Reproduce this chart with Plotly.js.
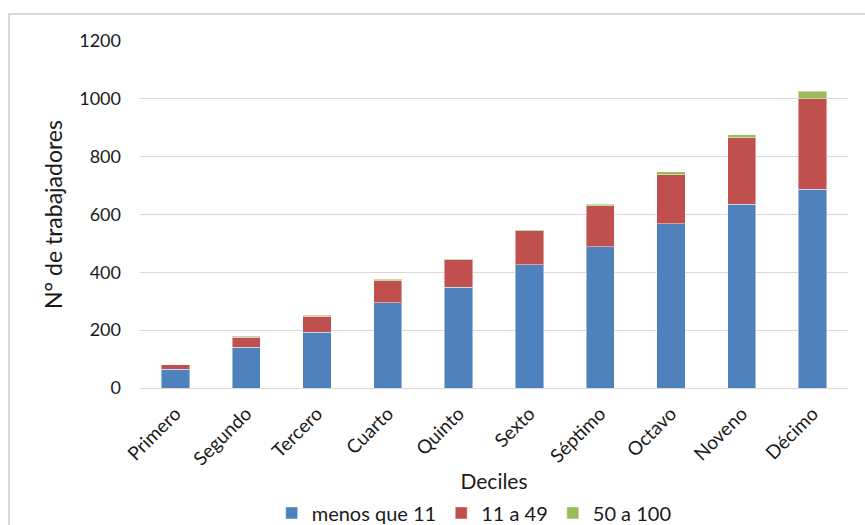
<!DOCTYPE html>
<html>
<head>
<meta charset="utf-8">
<script src="https://cdn.plot.ly/plotly-3.0.1.min.js"></script>
<style>
  html, body { margin: 0; padding: 0; background: #fff; }
  #wrap { position: relative; width: 865px; height: 525px; overflow: hidden; }
  #frame { position: absolute; left: 8px; top: 13px; width: 900px; height: 600px; border: 2px solid #d9d9d9; box-sizing: border-box; pointer-events: none; }
  #chart { position: absolute; left: 0; top: 0; width: 865px; height: 525px; }
</style>
</head>
<body>
<div id="wrap">
  <div id="chart"></div>
  <div id="frame"></div>
</div>
<script>
const categories = ["Primero", "Segundo", "Tercero", "Cuarto", "Quinto", "Sexto", "Séptimo", "Octavo", "Noveno", "Décimo"];
const seriesNames = ["menos que 11", "11 a 49", "50 a 100"];
const menosQue11 = [65, 141, 192, 295, 348, 427, 488, 568, 635, 688];
const de11a49 = [15, 34, 56, 76, 95, 116, 143, 170, 231, 313];
const de50a100 = [1, 4, 4, 5, 3, 3, 5, 9, 9, 25];
const yTicks = [0, 200, 400, 600, 800, 1000, 1200];

const colors = ["#4F81BD", "#C0504D", "#9BBB59"];
const values = [menosQue11, de11a49, de50a100];
const FONT = "Lato, 'Liberation Sans', sans-serif";

const traces = values.map((v, i) => ({
  type: "bar",
  name: seriesNames[i],
  x: categories,
  y: v,
  marker: { color: colors[i], line: { color: "rgba(255,255,255,0.45)", width: 1 } },
  hoverinfo: "x+y+name"
}));

const layout = {
  width: 865,
  height: 525,
  barmode: "stack",
  bargap: 0.6,
  paper_bgcolor: "#fff",
  plot_bgcolor: "#fff",
  margin: { l: 140, r: 17, t: 41, b: 136.5, autoexpand: false },
  font: { family: FONT, size: 18, color: "#1a1a1a" },
  xaxis: {
    type: "category",
    automargin: false,
    tickangle: -45,
    showgrid: false,
    showline: false,
    ticks: "",
    ticklabelstandoff: 10,
    tickfont: { family: FONT, size: 19, color: "#1a1a1a" },
    title: { text: "Deciles", font: { family: FONT, size: 21, color: "#1a1a1a" }, standoff: 6 }
  },
  yaxis: {
    range: [0, 1200],
    automargin: false,
    tickvals: yTicks,
    ticktext: yTicks.map(String),
    showgrid: true,
    gridcolor: "#d9d9d9",
    gridwidth: 1,
    zeroline: true,
    zerolinecolor: "#d9d9d9",
    zerolinewidth: 1,
    showline: false,
    ticks: "",
    ticklabelstandoff: 18,
    tickfont: { family: FONT, size: 18, color: "#1a1a1a" },
    title: { text: "N° de trabajadores", font: { family: FONT, size: 23, color: "#1a1a1a" }, standoff: 10 }
  },
  legend: {
    orientation: "h",
    x: 0.472,
    xanchor: "center",
    yref: "container",
    y: 0.023,
    yanchor: "middle",
    font: { family: FONT, size: 20, color: "#1a1a1a" },
    itemwidth: 30,
    traceorder: "normal"
  },
  showlegend: true
};

Plotly.newPlot("chart", traces, layout, { displayModeBar: false, staticPlot: true });
</script>
</body>
</html>
